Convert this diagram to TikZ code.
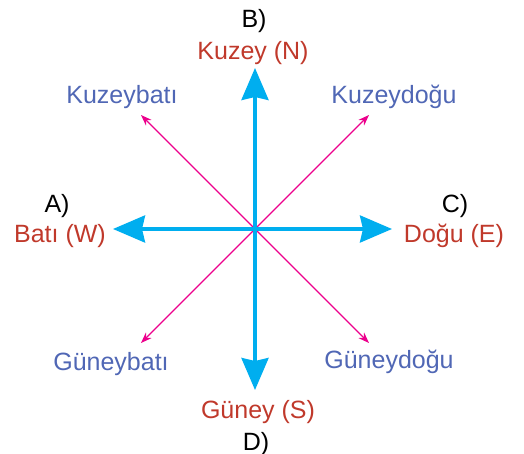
\documentclass[tikz,border=0pt]{standalone}
\usepackage{fontspec}
\setmainfont{Liberation Sans}
\usetikzlibrary{arrows.meta}
\definecolor{dirred}{RGB}{192,57,43}
\definecolor{dirblue}{RGB}{80,103,181}
\definecolor{arrcyan}{RGB}{0,174,239}
\definecolor{arrpink}{RGB}{236,0,140}
\tikzset{
  mainarrow/.style={arrcyan, line width=3.5pt, -{Stealth[length=32pt, width=27pt, inset=3pt]}},
  subarrow/.style={arrpink, line width=1.2pt, -{Stealth[length=11pt, width=8pt]}},
  mainlabel/.style={dirred, anchor=base, inner sep=0pt, font=\fontsize{25}{30}\selectfont},
  sublabel/.style={dirblue, anchor=base, inner sep=0pt, font=\fontsize{25}{30}\selectfont},
  letter/.style={black, anchor=base, inner sep=0pt, font=\fontsize{25}{30}\selectfont}
}
\begin{document}
\begin{tikzpicture}[x=1pt, y=-1pt, line join=round]
        \useasboundingbox (0,0) rectangle (524,454);
        \coordinate (O) at (255,229);
        \coordinate (N) at (255,68);
        \coordinate (S) at (255,390);
        \coordinate (W) at (113,229);
        \coordinate (E) at (392,229);
        \coordinate (NW) at (141,115);
        \coordinate (NE) at (369,115);
        \coordinate (SW) at (141,343);
        \coordinate (SE) at (369,343);
        \foreach \t in {NW,NE,SW,SE} \draw[subarrow] (O) -- (\t);
        \foreach \t in {N,S,W,E} \draw[mainarrow] (O) -- (\t);
        \node (lb) at (254,28) [letter]{B)};
        \node (la) at (57,213) [letter]{A)};
        \node (lc) at (455,213) [letter]{C)};
        \node (ld) at (256,450) [letter]{D)};
        \node (kuzey) at (253,60) [mainlabel]{Kuzey (N)};
        \node (bati) at (60,242) [mainlabel]{Batı (W)};
        \node (dogu) at (454,242) [mainlabel]{Doğu (E)};
        \node (guney) at (258,418) [mainlabel]{Güney (S)};
        \node (kb) at (122,104) [sublabel]{Kuzeybatı};
        \node (kd) at (394,104) [sublabel]{Kuzeydoğu};
        \node (gb) at (111,370) [sublabel]{Güneybatı};
        \node (gd) at (389,368) [sublabel]{Güneydoğu};
    \end{tikzpicture}
\end{document}
